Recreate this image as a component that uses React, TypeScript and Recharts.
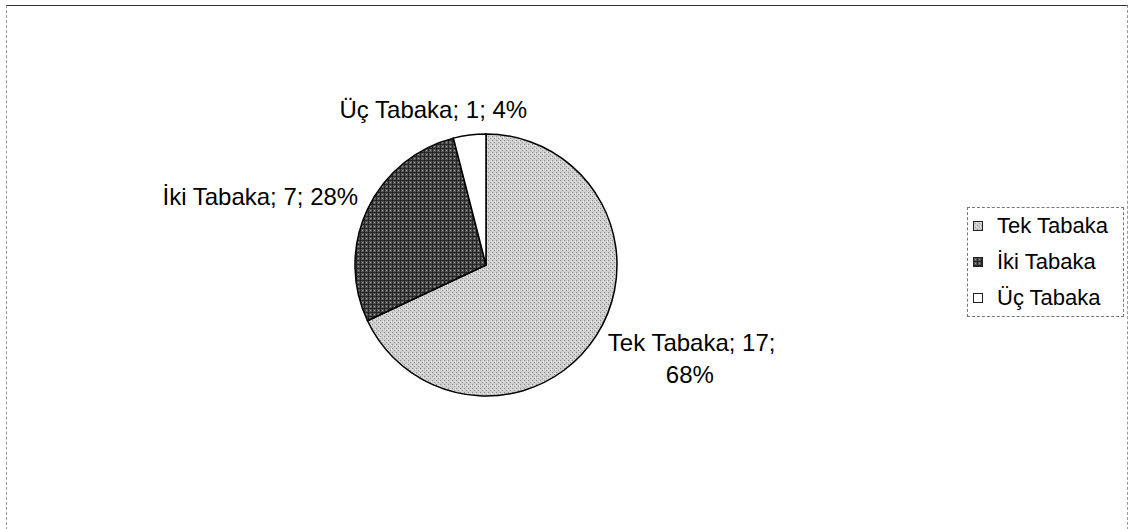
import { Cell, Legend, Pie, PieChart } from 'recharts';

const categories = ['Tek Tabaka', 'İki Tabaka', 'Üç Tabaka'];
const counts = [17, 7, 1];
const percents = [68, 28, 4];

const fills = ['url(#tekFill)', 'url(#ikiFill)', '#ffffff'];
const swatches = ['url(#tekFill)', 'url(#ikiFill)', '#ffffff'];

const data = categories.map((name, i) => ({ name, value: counts[i], pct: percents[i] }));

const FONT = '"Liberation Sans", Arial, sans-serif';
const LABEL_SIZE = 24;
const LEGEND_SIZE = 22;
const RAD = Math.PI / 180;

// small shifts so each label sits where the spreadsheet put it
const labelNudge = [
  { dx: -4, dy: -3 },
  { dx: 7, dy: -5 },
  { dx: -34, dy: -8 },
];

function SliceLabel(props: any) {
  const { cx, cy, midAngle, outerRadius, index, payload } = props;
  const r = outerRadius + 18;
  const x = cx + r * Math.cos(-midAngle * RAD) + labelNudge[index].dx;
  const y = cy + r * Math.sin(-midAngle * RAD) + labelNudge[index].dy;
  const common = { fontFamily: FONT, fontSize: LABEL_SIZE, fill: '#000' };
  if (index === 0) {
    return (
      <text x={x} y={y} {...common} dominantBaseline="central">
        <tspan x={x}>{`${payload.name}; ${payload.value};`}</tspan>
        <tspan x={x + 82} dy={32} textAnchor="middle">{`${payload.pct}%`}</tspan>
      </text>
    );
  }
  const anchor = index === 1 ? 'end' : 'middle';
  return (
    <text x={x} y={y} {...common} textAnchor={anchor} dominantBaseline="central">
      {`${payload.name}; ${payload.value}; ${payload.pct}%`}
    </text>
  );
}

function LegendBox({ payload }: any) {
  const items = [...(payload || [])].sort(
    (a: any, b: any) => categories.indexOf(a.value) - categories.indexOf(b.value),
  );
  return (
    <div
      style={{
        boxSizing: 'border-box',
        width: 157,
        border: '1px dashed #777',
        padding: '0 0 0 5px',
        fontFamily: FONT,
        fontSize: LEGEND_SIZE,
        background: '#fff',
      }}
    >
      {items.map((entry: any) => {
        const i = categories.indexOf(entry.value);
        return (
          <div key={entry.value} style={{ display: 'flex', alignItems: 'center', height: 36 }}>
            <svg width={10} height={10} style={{ marginRight: 14, flex: 'none' }}>
              <rect x={0.5} y={0.5} width={9} height={9} fill={swatches[i]} stroke="#222" />
            </svg>
            <span>{entry.value}</span>
          </div>
        );
      })}
    </div>
  );
}

export default function App() {
  return (
    <div
      style={{
        position: 'absolute',
        left: 0,
        top: 0,
        width: 1130,
        height: 529,
        background: '#fff',
      }}
    >
      <svg width={0} height={0} style={{ position: 'absolute' }}>
        <defs>
          <pattern id="tekFill" width="4" height="4" patternUnits="userSpaceOnUse">
            <rect width="4" height="4" fill="#cfcfcf" />
            <rect x="0" y="0" width="1" height="1" fill="#8a8a8a" />
            <rect x="2" y="2" width="1" height="1" fill="#9a9a9a" />
            <rect x="3" y="1" width="1" height="1" fill="#eeeeee" />
          </pattern>
          <pattern id="ikiFill" width="4" height="4" patternUnits="userSpaceOnUse">
            <rect width="4" height="4" fill="#555555" />
            <rect x="0" y="0" width="4" height="1" fill="#262626" />
            <rect x="0" y="0" width="1" height="4" fill="#262626" />
            <rect x="2" y="2" width="1" height="1" fill="#999999" />
          </pattern>
        </defs>
      </svg>
      <div
        style={{
          position: 'absolute',
          left: 6,
          top: 5,
          width: 1120,
          height: 524,
          borderTop: '1px solid #333',
          borderLeft: '1px dashed #999',
          borderRight: '1px dashed #999',
        }}
      />
      <PieChart
        width={1130}
        height={529}
        margin={{ top: 0, right: 0, bottom: 0, left: 0 }}
        style={{ position: 'absolute', left: 0, top: 0 }}
      >
        <Pie
          data={data}
          dataKey="value"
          nameKey="name"
          cx={486}
          cy={265}
          outerRadius={131}
          startAngle={90}
          endAngle={-270}
          stroke="#000"
          strokeWidth={1.5}
          label={SliceLabel}
          labelLine={false}
          isAnimationActive={false}
        >
          {data.map((d, i) => (
            <Cell key={d.name} fill={fills[i]} />
          ))}
        </Pie>
        <Legend
          layout="vertical"
          align="right"
          verticalAlign="top"
          content={LegendBox}
          wrapperStyle={{ position: 'absolute', left: 967, top: 207, width: 157, right: 'auto' }}
        />
      </PieChart>
    </div>
  );
}
